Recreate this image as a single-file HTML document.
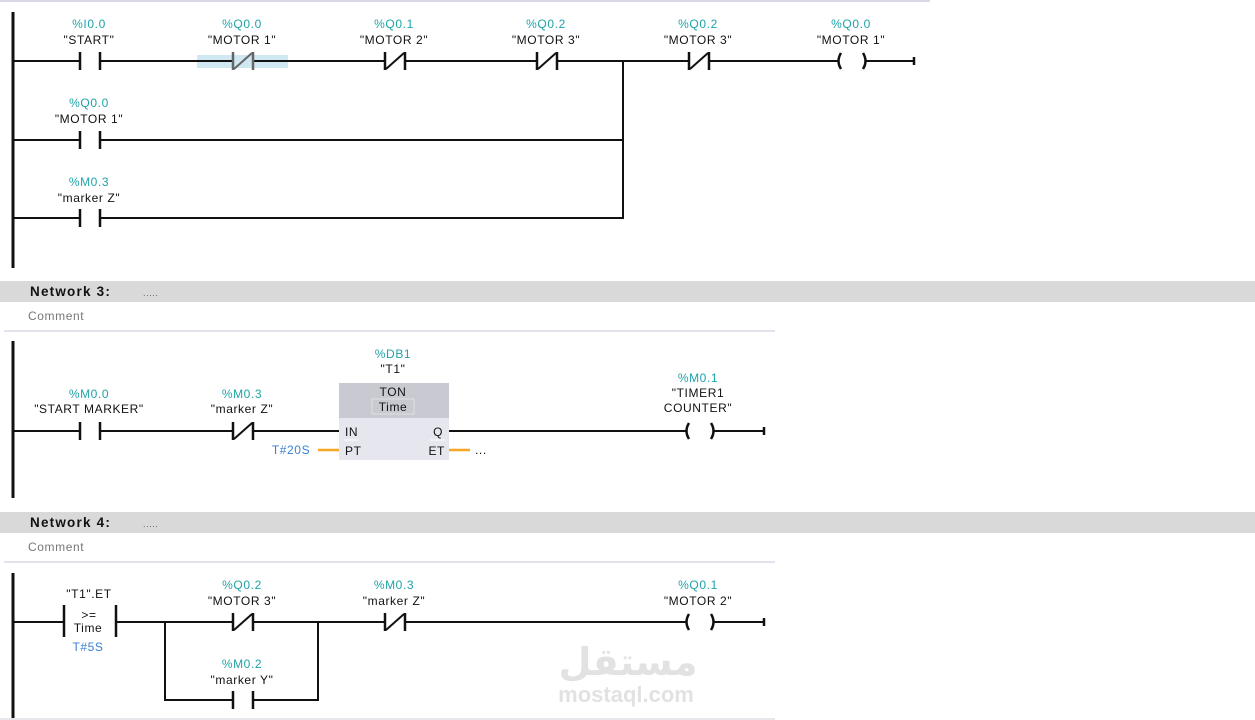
<!DOCTYPE html>
<html><head><meta charset="utf-8"><style>
html,body{margin:0;padding:0;background:#fff;}
svg{display:block;}
text{font-family:"Liberation Sans",sans-serif;font-size:12px;text-anchor:middle;letter-spacing:0.6px;}
.a{fill:#1fa3a8;}
.n{fill:#111;}
.b{fill:#3a7fd5;}
.w{stroke:#111;stroke-width:2;fill:none;}
.c{stroke:#111;stroke-width:2.5;fill:none;}
.h{text-anchor:start;font-weight:bold;font-size:13.5px;letter-spacing:1.2px;fill:#111;}
</style></head><body>
<svg width="1255" height="720" viewBox="0 0 1255 720" xmlns="http://www.w3.org/2000/svg">
<defs>
<g id="no"><rect x="-10" y="-3" width="20" height="6" fill="#fff"/><line x1="-10" y1="-9" x2="-10" y2="9" class="c"/><line x1="10" y1="-9" x2="10" y2="9" class="c"/></g>
<g id="nc"><rect x="-10" y="-3" width="20" height="6" fill="#fff"/><line x1="-10" y1="-9" x2="-10" y2="9" class="c"/><line x1="10" y1="-9" x2="10" y2="9" class="c"/><line x1="-9" y1="8" x2="9" y2="-8" class="w"/></g>
<g id="coil"><rect x="-13" y="-3" width="26" height="6" fill="#fff"/><path d="M-11,-8 Q-16,0 -11,8" class="c"/><path d="M11,-8 Q16,0 11,8" class="c"/></g>
</defs>
<line x1="0" y1="1" x2="930" y2="1" stroke="#d8d8e6" stroke-width="2"/>
<!-- Network 2 -->
<line x1="13" y1="12" x2="13" y2="268" stroke="#111" stroke-width="3"/>
<rect x="197" y="55" width="91" height="13" fill="#cfe8f2"/>
<line x1="13" y1="61" x2="914" y2="61" class="w"/>
<line x1="914" y1="57" x2="914" y2="65" class="c"/>
<line x1="13" y1="140" x2="623" y2="140" class="w"/>
<line x1="13" y1="218" x2="623" y2="218" class="w"/>
<line x1="623" y1="61" x2="623" y2="219" class="w"/>
<use href="#no" x="90" y="61"/>
<g transform="translate(243,61)"><rect x="-10" y="-3" width="20" height="6" fill="#cfe8f2"/><line x1="-10" y1="-9" x2="-10" y2="9" stroke="#666" stroke-width="2.5"/><line x1="10" y1="-9" x2="10" y2="9" stroke="#666" stroke-width="2.5"/><line x1="-9" y1="8" x2="9" y2="-8" stroke="#666" stroke-width="2"/></g>
<use href="#nc" x="395" y="61"/>
<use href="#nc" x="547" y="61"/>
<use href="#nc" x="699" y="61"/>
<use href="#coil" x="852" y="61"/>
<use href="#no" x="90" y="140"/>
<use href="#no" x="90" y="218"/>
<text x="89" y="28" class="a">%I0.0</text><text x="89" y="44" class="n">"START"</text>
<text x="242" y="28" class="a">%Q0.0</text><text x="242" y="44" class="n">"MOTOR 1"</text>
<text x="394" y="28" class="a">%Q0.1</text><text x="394" y="44" class="n">"MOTOR 2"</text>
<text x="546" y="28" class="a">%Q0.2</text><text x="546" y="44" class="n">"MOTOR 3"</text>
<text x="698" y="28" class="a">%Q0.2</text><text x="698" y="44" class="n">"MOTOR 3"</text>
<text x="851" y="28" class="a">%Q0.0</text><text x="851" y="44" class="n">"MOTOR 1"</text>
<text x="89" y="107" class="a">%Q0.0</text><text x="89" y="123" class="n">"MOTOR 1"</text>
<text x="89" y="186" class="a">%M0.3</text><text x="89" y="202" class="n">"marker Z"</text>
<!-- Network 3 header -->
<rect x="0" y="281" width="1255" height="21" fill="#d9d9d9"/>
<text x="30" y="296" class="h">Network 3:</text>
<text x="143" y="296" style="text-anchor:start;fill:#666;font-size:9px;">.....</text>
<text x="28" y="320" style="text-anchor:start;fill:#777;">Comment</text>
<line x1="4" y1="331" x2="775" y2="331" stroke="#d8d8e6" stroke-width="1.5"/>
<line x1="13" y1="341" x2="13" y2="498" stroke="#111" stroke-width="3"/>
<line x1="13" y1="431" x2="339" y2="431" class="w"/>
<line x1="449" y1="431" x2="763" y2="431" class="w"/>
<line x1="764" y1="427" x2="764" y2="435" class="c"/>
<use href="#no" x="90" y="431"/>
<use href="#nc" x="243" y="431"/>
<use href="#coil" x="700" y="431"/>
<rect x="339" y="383" width="110" height="77" fill="#e6e6ee"/>
<rect x="339" y="383" width="110" height="35" fill="#c9c9d2"/>
<rect x="372" y="399" width="42" height="15" fill="none" stroke="#e0e0e6"/>
<text x="393" y="396" class="n">TON</text>
<text x="393" y="411" class="n">Time</text>
<text x="345" y="436" class="n" style="text-anchor:start">IN</text>
<line x1="344" y1="440" x2="359" y2="440" stroke="#fff"/>
<text x="345" y="455" class="n" style="text-anchor:start">PT</text>
<text x="443" y="436" class="n" style="text-anchor:end">Q</text>
<line x1="430" y1="440" x2="445" y2="440" stroke="#fff"/>
<text x="445" y="455" class="n" style="text-anchor:end">ET</text>
<line x1="318" y1="450" x2="339" y2="450" stroke="#f5a623" stroke-width="2.5"/>
<line x1="449" y1="450" x2="470" y2="450" stroke="#f5a623" stroke-width="2.5"/>
<text x="291" y="454" class="b">T#20S</text>
<text x="475" y="454" class="n" style="text-anchor:start">...</text>
<text x="393" y="358" class="a">%DB1</text><text x="393" y="373" class="n">"T1"</text>
<text x="89" y="398" class="a">%M0.0</text><text x="89" y="413" class="n">"START MARKER"</text>
<text x="242" y="398" class="a">%M0.3</text><text x="242" y="413" class="n">"marker Z"</text>
<text x="698" y="382" class="a">%M0.1</text><text x="698" y="397" class="n">"TIMER1</text><text x="698" y="412" class="n">COUNTER"</text>
<!-- Network 4 -->
<rect x="0" y="512" width="1255" height="21" fill="#d9d9d9"/>
<text x="30" y="527" class="h">Network 4:</text>
<text x="143" y="527" style="text-anchor:start;fill:#666;font-size:9px;">.....</text>
<text x="28" y="551" style="text-anchor:start;fill:#777;">Comment</text>
<line x1="4" y1="562" x2="775" y2="562" stroke="#d8d8e6" stroke-width="1.5"/>
<line x1="13" y1="573" x2="13" y2="718" stroke="#111" stroke-width="3"/>
<line x1="13" y1="622" x2="64" y2="622" class="w"/>
<line x1="116" y1="622" x2="763" y2="622" class="w"/>
<line x1="764" y1="618" x2="764" y2="626" class="c"/>
<line x1="64" y1="605" x2="64" y2="637" class="c"/>
<line x1="116" y1="605" x2="116" y2="637" class="c"/>
<text x="89" y="619" class="n">&gt;=</text>
<text x="88" y="632" class="n">Time</text>
<text x="88" y="651" class="b">T#5S</text>
<text x="89" y="598" class="n">"T1".ET</text>
<line x1="165" y1="622" x2="165" y2="701" class="w"/>
<line x1="318" y1="622" x2="318" y2="701" class="w"/>
<line x1="165" y1="700" x2="318" y2="700" class="w"/>
<use href="#nc" x="243" y="622"/>
<use href="#no" x="243" y="700"/>
<use href="#nc" x="395" y="622"/>
<use href="#coil" x="700" y="622"/>
<text x="242" y="589" class="a">%Q0.2</text><text x="242" y="605" class="n">"MOTOR 3"</text>
<text x="394" y="589" class="a">%M0.3</text><text x="394" y="605" class="n">"marker Z"</text>
<text x="242" y="668" class="a">%M0.2</text><text x="242" y="684" class="n">"marker Y"</text>
<text x="698" y="589" class="a">%Q0.1</text><text x="698" y="605" class="n">"MOTOR 2"</text>
<text x="628" y="675" style="font-family:'DejaVu Sans',sans-serif;font-size:38px;fill:#e2e2e2;font-weight:bold;">مستقل</text>
<text x="626" y="702" style="font-size:22px;fill:#e2e2e2;font-weight:bold;letter-spacing:0;">mostaql.com</text>
<line x1="0" y1="719" x2="775" y2="719" stroke="#e0e0e6" stroke-width="1.5"/>
</svg>
</body></html>
